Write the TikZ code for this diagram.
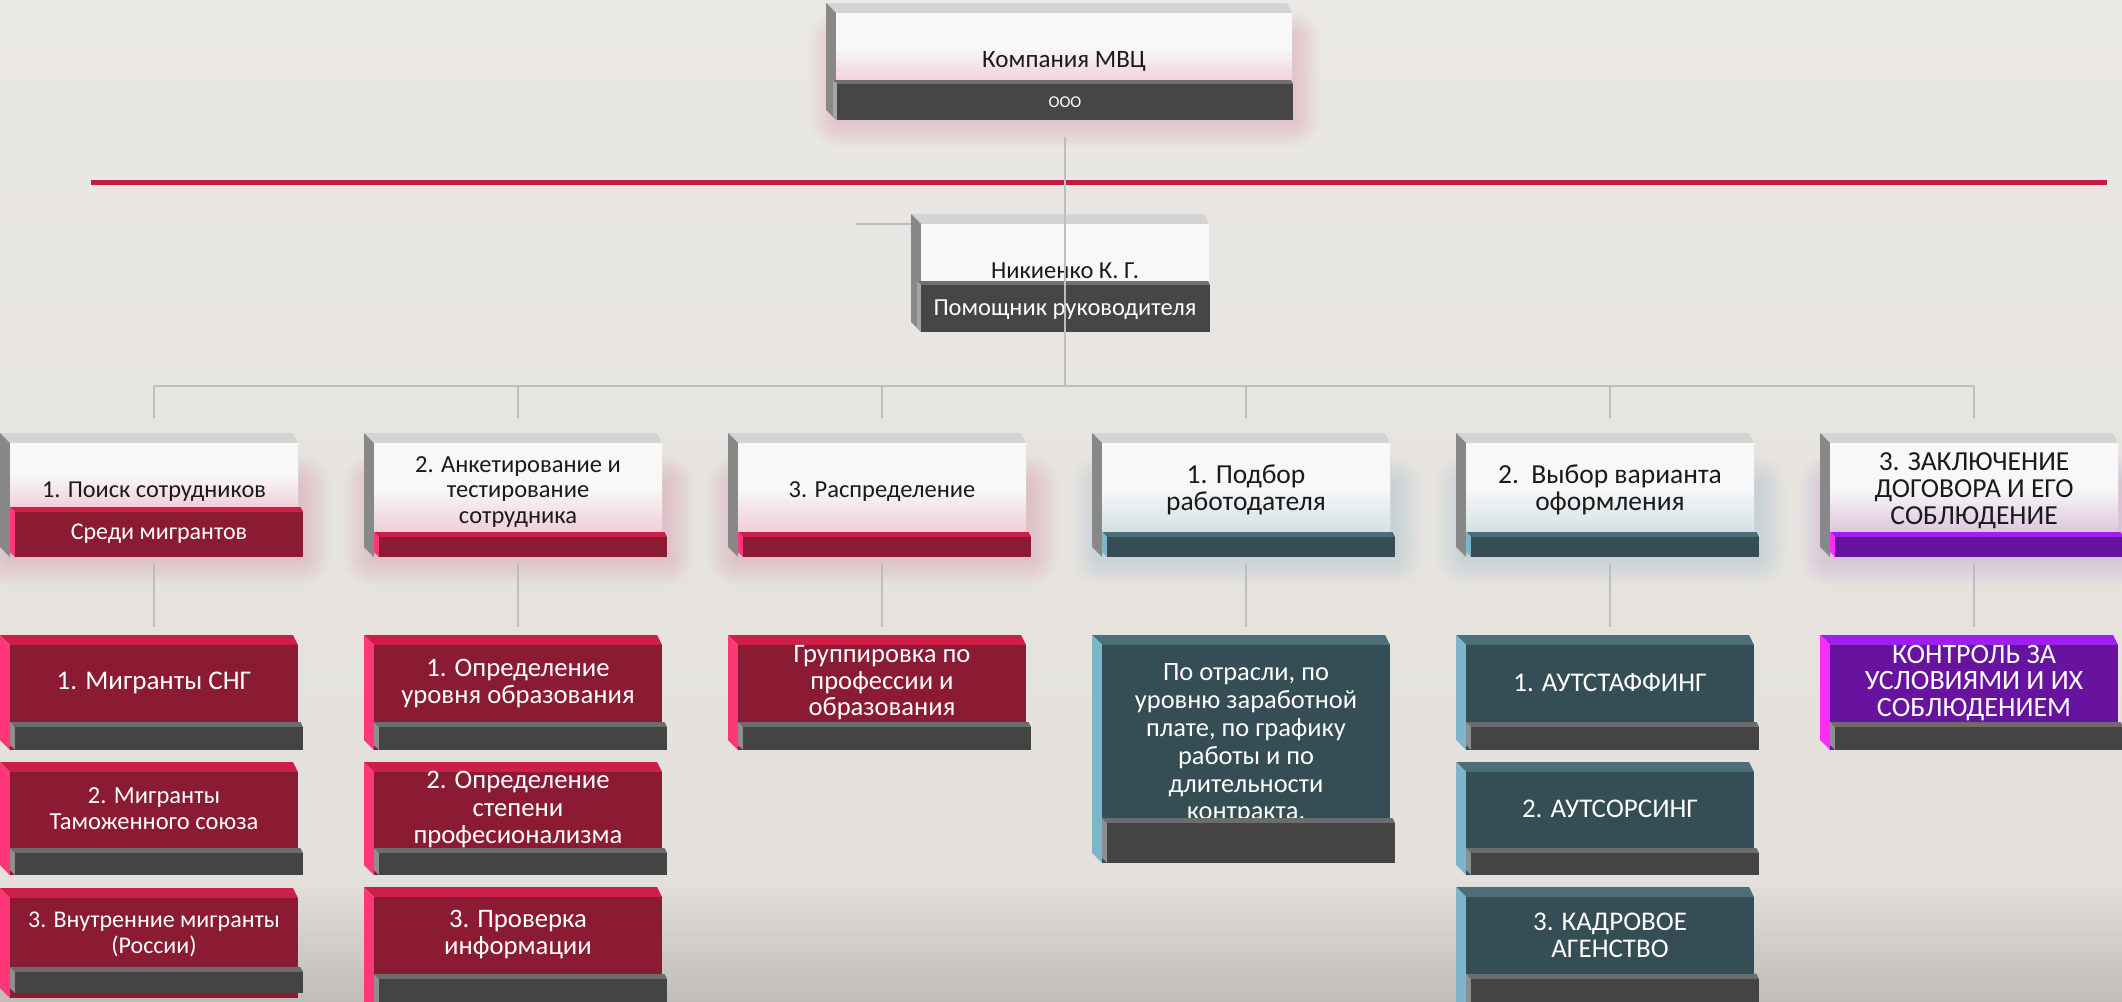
\documentclass[tikz,border=0pt]{standalone}
\usepackage{fontspec}
\setmainfont{Carlito}
\usetikzlibrary{calc}
\definecolor{bgtop}{RGB}{234,232,229}
\definecolor{bgmid}{RGB}{228,225,220}
\definecolor{bgdark}{RGB}{192,189,184}
\definecolor{redline}{RGB}{192,28,66}
\definecolor{conncol}{RGB}{190,190,190}
\definecolor{topface}{RGB}{212,212,212}
\definecolor{sideface}{RGB}{136,136,136}
\definecolor{whitefront}{RGB}{248,248,248}
\definecolor{pinkfront}{RGB}{240,206,218}
\definecolor{bluefront}{RGB}{212,224,228}
\definecolor{lavfront}{RGB}{220,198,222}
\definecolor{darkbar}{RGB}{70,70,70}
\definecolor{darkbartop}{RGB}{112,112,112}
\definecolor{darkbarside}{RGB}{165,165,165}
\definecolor{wine}{RGB}{139,26,51}
\definecolor{winetop}{RGB}{204,31,72}
\definecolor{wineside}{RGB}{255,55,120}
\definecolor{cteal}{RGB}{53,77,84}
\definecolor{ctealtop}{RGB}{75,110,120}
\definecolor{ctealside}{RGB}{125,182,202}
\definecolor{cpurp}{RGB}{104,18,160}
\definecolor{cpurptop}{RGB}{158,32,238}
\definecolor{cpurpside}{RGB}{250,45,250}
\definecolor{gbar}{RGB}{68,68,68}
\definecolor{gbartop}{RGB}{108,108,108}
\definecolor{gbarside}{RGB}{142,142,142}
\definecolor{glowpink}{RGB}{214,140,165}
\definecolor{glowblue}{RGB}{160,190,200}
\definecolor{glowlav}{RGB}{200,150,215}
\definecolor{textblack}{RGB}{26,26,26}

% L T R B d topcolour sidecolour
\newcommand\bevel[7]{%
  \fill[#6] ({#1},{#2}) -- ({(#3)-0.5*(#5)},{#2}) -- ({#3},{(#2)+(#5)}) -- ({(#1)+(#5)},{(#2)+(#5)}) -- cycle;
  \fill[#7] ({#1},{#2}) -- ({(#1)+(#5)},{(#2)+(#5)}) -- ({(#1)+(#5)},{#4}) -- ({#1},{(#4)-(#5)}) -- cycle;
}
% name x1 y1 x2 y2 style
\newcommand\face[6]{%
  \node[#6, draw=none, inner sep=0pt, outer sep=0pt, minimum width={(#4)-(#2)}, minimum height={(#5)-(#3)}, anchor=north west] (#1) at ({#2},{#3}) {};
}
% x1 y1 x2 y2 colour
\newcommand\glowrect[5]{%
  \foreach \r in {3,6,...,30}{\fill[#5,opacity=0.045,rounded corners=\r pt] ({(#1)-\r},{(#2)-\r}) rectangle ({(#3)+\r},{(#4)+\r});}
}
% name L bartop facestyle barcolour
\newcommand\lvtwo[5]{%
  \bevel{#2}{433}{(#2)+298}{557}{10}{topface}{sideface}
  \face{#1}{(#2)+10}{443}{(#2)+298}{#3}{#4}
  \bevel{(#2)+10}{#3}{(#2)+303}{557}{5}{#5top}{#5side}
  \face{#1b}{(#2)+15}{(#3)+5}{(#2)+303}{557}{fill=#5}
}
\newcommand\fs[2]{\fontsize{#1}{#2}\selectfont}
\newcommand\lfs{\fs{27}{27}}
% name L T bartop barbottom colour texty text mainbottom  (font from \lfs)
\newcommand\lvthree[9]{%
  \bevel{#2}{#3}{(#2)+298}{#9}{10}{#6top}{#6side}
  \face{#1}{(#2)+10}{(#3)+10}{(#2)+298}{#9}{fill=#6}
  \node[t3,font=\lfs] (#1t) at ({(#2)+154},{#7}) {#8};
  \bevel{(#2)+10}{#4}{(#2)+303}{#5}{5}{gbartop}{gbarside}
  \face{#1b}{(#2)+15}{(#4)+5}{(#2)+303}{#5}{fill=gbar}
}

\begin{document}
\begin{tikzpicture}[x=1pt,y=-1pt,
  conn/.style={draw=conncol,line width=1.4pt},
  t1/.style={text=textblack,align=center,inner sep=0pt},
  t1w/.style={t1,text=white},
  t2/.style={text=textblack,align=center,inner sep=0pt},
  t3/.style={text=white,align=center,inner sep=0pt},
  wpink/.style={top color=whitefront,bottom color=pinkfront,middle color=whitefront},
  wblue/.style={top color=whitefront,bottom color=bluefront,middle color=whitefront},
  wlav/.style={top color=whitefront,bottom color=lavfront,middle color=whitefront}]
\useasboundingbox (0,0) rectangle (2122,1001);
% background
\shade[top color=bgtop,bottom color=bgmid] (0,0) rectangle (2122,880);
\shade[top color=bgmid,bottom color=bgdark] (0,879) rectangle (2122,1001);
% red separator line
\draw[redline,line width=5pt] (91,182.5) -- (2107,182.5);
% glows
\glowrect{840}{40}{1290}{118}{glowpink}
\glowrect{10}{485}{300}{555}{glowpink}
\glowrect{374}{485}{664}{555}{glowpink}
\glowrect{738}{485}{1028}{555}{glowpink}
\glowrect{1102}{485}{1392}{555}{glowblue}
\glowrect{1466}{485}{1756}{555}{glowblue}
\glowrect{1830}{485}{2120}{555}{glowlav}

% top box
\bevel{826}{3}{1292}{120}{10}{topface}{sideface}
\face{top}{836}{13}{1292}{83}{wpink}
\bevel{833}{80}{1293}{120}{4}{darkbartop}{darkbarside}
\face{topb}{837}{84}{1293}{120}{fill=darkbar}
\node[t1,font=\fs{25}{28}] (topt) at (1064,61) {Компания МВЦ};
\node[t1w,font=\fs{16.5}{18}] (topbt) at (1065,102) {ООО};

% assistant connector (behind box)
\coordinate (asl) at (856,224);
\draw[conn] (asl) -- (asl -| topb.south);
% assistant box
\bevel{911}{214}{1209}{332}{10}{topface}{sideface}
\face{asst}{921}{224}{1209}{282}{fill=whitefront}
\bevel{917}{281}{1210}{332}{4}{darkbartop}{darkbarside}
\face{asstb}{921}{285}{1210}{332}{fill=darkbar}
\node[t1,font=\fs{24.5}{27}] (asstt) at (1065,271) {Никиенко К. Г.};
\node[t1w,font=\fs{24.5}{27}] (asstbt) at (1065,310) {Помощник руководителя};

% level 2
\lvtwo{l2a}{0}{507}{wpink}{wine}
\lvtwo{l2b}{364}{532}{wpink}{wine}
\lvtwo{l2c}{728}{532}{wpink}{wine}
\lvtwo{l2d}{1092}{532}{wblue}{cteal}
\lvtwo{l2e}{1456}{532}{wblue}{cteal}
\lvtwo{l2f}{1820}{532}{wlav}{cpurp}
\node[t2,font=\fs{24.3}{25}] (l2at) at (154,492) {1. Поиск сотрудников};
\node[t1w,font=\fs{24}{25}] (l2abt) at (159,534) {Среди мигрантов};
\node[t2,font=\fs{24.5}{25.5}] (l2bt) at (518,492) {2. Анкетирование и\\тестирование\\сотрудника};
\node[t2,font=\fs{24.5}{25}] (l2ct) at (882,492) {3. Распределение};
\node[t2,font=\fs{27.5}{27}] (l2dt) at (1246,490) {1. Подбор\\работодателя};
\node[t2,font=\fs{27.5}{27}] (l2et) at (1610,490) {2.\hspace{0.45em}Выбор варианта\\оформления};
\node[t2,font=\fs{27.5}{27}] (l2ft) at (1974,491) {3. ЗАКЛЮЧЕНИЕ\\ДОГОВОРА И ЕГО\\СОБЛЮДЕНИЕ};

% level 3
\renewcommand\lfs{\fs{27}{27}}
\lvthree{l3a1}{0}{635}{722}{750}{wine}{683}{1. Мигранты СНГ}{750}
\renewcommand\lfs{\fs{24.5}{26}}
\lvthree{l3a2}{0}{762}{848}{875}{wine}{809}{2. Мигранты\\Таможенного союза}{875}
\renewcommand\lfs{\fs{24}{26}}
\lvthree{l3a3}{0}{888}{967}{993}{wine}{934}{3. Внутренние мигранты\\(России)}{998}
\renewcommand\lfs{\fs{26.7}{27}}
\lvthree{l3b1}{364}{635}{722}{750}{wine}{683}{1. Определение\\уровня образования}{750}
\renewcommand\lfs{\fs{26.7}{27.5}}
\lvthree{l3b2}{364}{762}{848}{875}{wine}{810}{2. Определение\\степени\\професионализма}{875}
\renewcommand\lfs{\fs{26.7}{27}}
\lvthree{l3b3}{364}{887}{974}{1012}{wine}{935}{3. Проверка\\информации}{1012}
\renewcommand\lfs{\fs{26.6}{26.5}}
\lvthree{l3c1}{728}{635}{722}{750}{wine}{683}{Группировка по\\профессии и\\образования}{750}
\renewcommand\lfs{\fs{26.4}{27.8}}
\lvthree{l3d1}{1092}{635}{818}{863}{cteal}{744}{По отрасли, по\\уровню заработной\\плате, по графику\\работы и по\\длительности\\контракта.}{863}
\renewcommand\lfs{\fs{27}{27}}
\lvthree{l3e1}{1456}{635}{722}{750}{cteal}{683}{1. АУТСТАФФИНГ}{750}
\lvthree{l3e2}{1456}{762}{848}{875}{cteal}{809}{2. АУТСОРСИНГ}{875}
\lvthree{l3e3}{1456}{887}{974}{1012}{cteal}{935}{3. КАДРОВОЕ\\АГЕНСТВО}{1012}
\renewcommand\lfs{\fs{28}{26.5}}
\lvthree{l3f1}{1820}{635}{722}{750}{cpurp}{683}{КОНТРОЛЬ ЗА\\УСЛОВИЯМИ И ИХ\\СОБЛЮДЕНИЕМ}{750}

% connectors
\coordinate (bus) at (1065,386);
\draw[conn] ($(topb.south)+(0,17)$) -- (topb.south |- bus);
\draw[conn] (l2a.north |- bus) -- (l2f.north |- bus);
\foreach \n in {l2a,l2b,l2c,l2d,l2e,l2f}{
  \draw[conn] (\n.north |- bus) -- ($(\n.north)+(0,-25)$);
}
\foreach \p/\c in {l2a/l3a1,l2b/l3b1,l2c/l3c1,l2d/l3d1,l2e/l3e1,l2f/l3f1}{
  \draw[conn] ($(\c.north |- \p b.south)+(0,6)$) -- ($(\c.north)+(0,-18)$);
}
\end{tikzpicture}
\end{document}
